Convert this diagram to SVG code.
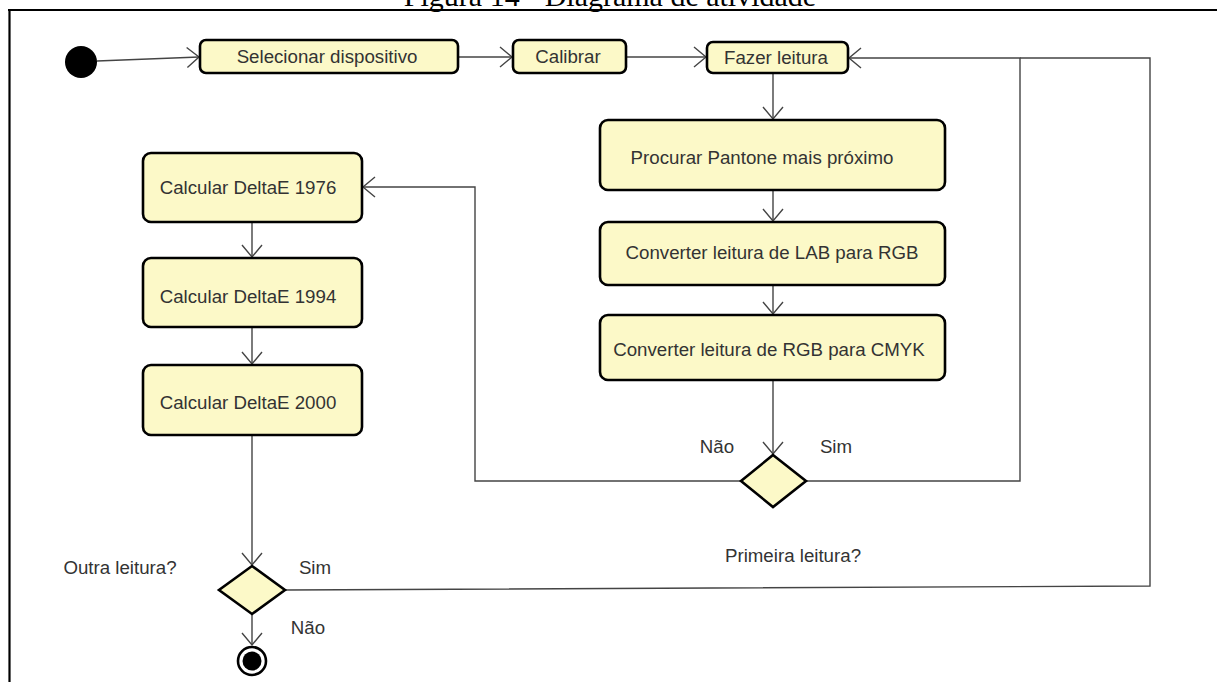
<svg xmlns="http://www.w3.org/2000/svg" width="1217" height="682" viewBox="0 0 1217 682">
<defs>
<style>
.box{fill:#fcf9c8;stroke:#000;stroke-width:2.6}
.dia{fill:#fcf9c8;stroke:#000;stroke-width:2.6}
.t{font-family:"Liberation Sans",Arial,sans-serif;font-size:18.7px;fill:#333;text-anchor:middle}
.c{fill:none;stroke:#444;stroke-width:1.4}
.title{font-family:"Liberation Serif","Times New Roman",serif;font-size:30px;fill:#000;text-anchor:middle}
</style>
<marker id="ah" markerWidth="16" markerHeight="24" refX="13" refY="12" orient="auto" markerUnits="userSpaceOnUse">
<path d="M1,2 L13,12 L1,22" fill="none" stroke="#444" stroke-width="1.4"/>
</marker>
</defs>
<rect width="1217" height="682" fill="#fff"/>
<text class="title" x="610" y="6">Figura 14 - Diagrama de atividade</text>
<line x1="8" y1="10" x2="1217" y2="10" stroke="#000" stroke-width="2.2"/>
<line x1="9.5" y1="10" x2="9.5" y2="682" stroke="#000" stroke-width="2.2"/>

<g id="connectors">
<path class="c" d="M97,61 L199,57" marker-end="url(#ah)"/>
<path class="c" d="M458,57 L512,57" marker-end="url(#ah)"/>
<path class="c" d="M626,57 L706,57" marker-end="url(#ah)"/>
<path class="c" d="M773,73 L773,119" marker-end="url(#ah)"/>
<path class="c" d="M773,190 L773,221" marker-end="url(#ah)"/>
<path class="c" d="M773,285 L773,314" marker-end="url(#ah)"/>
<path class="c" d="M773,380 L773,454" marker-end="url(#ah)"/>
<path class="c" d="M741,481 L475,481 L475,187 L363,187" marker-end="url(#ah)"/>
<path class="c" d="M806,481 L1020,481 L1020,58 L849,58" marker-end="url(#ah)"/>
<path class="c" d="M285,590 L1150,586 L1150,58 L1020,58"/>
<path class="c" d="M252,222 L252,257" marker-end="url(#ah)"/>
<path class="c" d="M252,327 L252,364" marker-end="url(#ah)"/>
<path class="c" d="M252,435 L252,565" marker-end="url(#ah)"/>
<path class="c" d="M252,614 L252,645" marker-end="url(#ah)"/>
</g>

<g id="start"><circle cx="81" cy="62" r="16" fill="#000"/></g>

<g id="n-selecionar">
<rect class="box" x="200" y="40" width="258" height="33" rx="6"/>
<text class="t" x="327" y="63">Selecionar dispositivo</text>
</g>
<g id="n-calibrar">
<rect class="box" x="513" y="40" width="113" height="33" rx="6"/>
<text class="t" x="568" y="63">Calibrar</text>
</g>
<g id="n-fazer">
<rect class="box" x="707" y="42" width="141" height="31" rx="6"/>
<text class="t" x="776" y="64">Fazer leitura</text>
</g>
<g id="n-procurar">
<rect class="box" x="600" y="120" width="345" height="70" rx="8"/>
<text class="t" x="762" y="164">Procurar Pantone mais próximo</text>
</g>
<g id="n-lab">
<rect class="box" x="600" y="222" width="345" height="63" rx="8"/>
<text class="t" x="772" y="259">Converter leitura de LAB para RGB</text>
</g>
<g id="n-cmyk">
<rect class="box" x="600" y="315" width="345" height="65" rx="8"/>
<text class="t" x="769" y="356">Converter leitura de RGB para CMYK</text>
</g>
<g id="n-d1">
<polygon class="dia" points="773,455 806,481 773,507 741,481"/>
<text class="t" x="717" y="453">Não</text>
<text class="t" x="836" y="453">Sim</text>
<text class="t" x="793" y="562">Primeira leitura?</text>
</g>
<g id="n-1976">
<rect class="box" x="143" y="153" width="219" height="69" rx="8"/>
<text class="t" x="248" y="194">Calcular DeltaE 1976</text>
</g>
<g id="n-1994">
<rect class="box" x="143" y="258" width="219" height="69" rx="8"/>
<text class="t" x="248" y="303">Calcular DeltaE 1994</text>
</g>
<g id="n-2000">
<rect class="box" x="143" y="365" width="219" height="70" rx="8"/>
<text class="t" x="248" y="409">Calcular DeltaE 2000</text>
</g>
<g id="n-d2">
<polygon class="dia" points="252,566 285,590 252,614 219,590"/>
<text class="t" x="120" y="574">Outra leitura?</text>
<text class="t" x="315" y="574">Sim</text>
<text class="t" x="308" y="634">Não</text>
</g>
<g id="end">
<circle cx="252" cy="661" r="14" fill="#fff" stroke="#000" stroke-width="2.6"/>
<circle cx="252" cy="661" r="9.5" fill="#000"/>
</g>
</svg>
